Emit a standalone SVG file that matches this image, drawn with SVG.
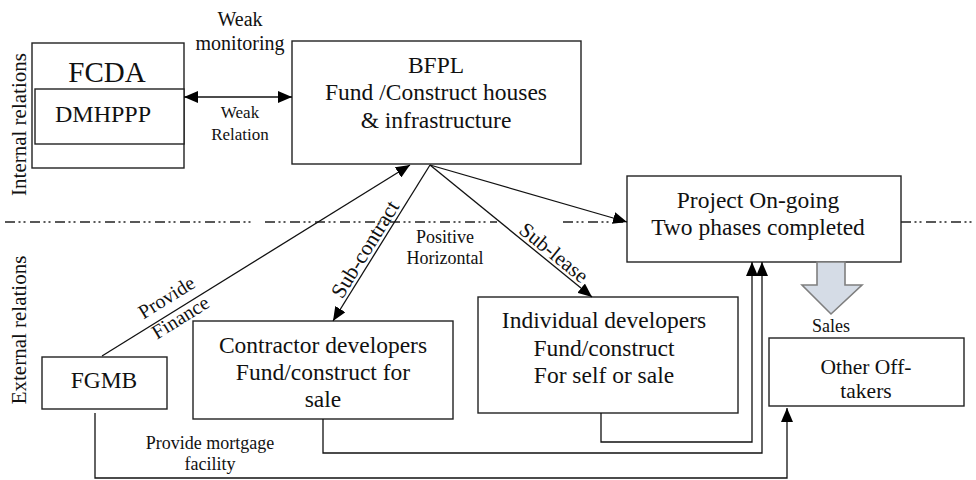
<svg xmlns="http://www.w3.org/2000/svg" width="976" height="480" viewBox="0 0 976 480">
<style>
text{font-family:"Liberation Serif","Times New Roman",serif;fill:#111}
.box{fill:#fff;stroke:#222;stroke-width:1.4}
.ln{fill:none;stroke:#111;stroke-width:1.3}
.dd{fill:none;stroke:#222;stroke-width:1.6;stroke-dasharray:10 3.5 2 3 2 4.5}
.m{font-size:23.5px;text-anchor:middle}
.s{font-size:18px;text-anchor:middle}
</style>
<defs>
<marker id="ah" viewBox="0 0 14 12" refX="14" refY="6" markerWidth="14" markerHeight="12" markerUnits="userSpaceOnUse" orient="auto-start-reverse">
<path d="M0,0 L14,6 L0,12 z" fill="#000"/>
</marker>
</defs>
<rect width="976" height="480" fill="#fff"/>

<g id="separator">
<path class="dd" d="M5,222 H253 M265,222 H497 M563,222 H627 M901,222 H976"/>
</g>

<g id="zone-labels">
<text transform="translate(26,124.5) rotate(-90)" font-size="21" text-anchor="middle">Internal relations</text>
<text transform="translate(26,330) rotate(-90)" font-size="21" text-anchor="middle">External relations</text>
</g>

<g id="fcda">
<rect class="box" x="32" y="43" width="152" height="125"/>
<text x="107" y="82" font-size="29" text-anchor="middle">FCDA</text>
</g>
<g id="dmhppp">
<rect class="box" x="35" y="89" width="149" height="55"/>
<text x="103" y="122" font-size="24" text-anchor="middle">DMHPPP</text>
</g>

<g id="bfpl">
<rect class="box" x="292" y="41" width="289" height="123"/>
<text class="m" x="436" y="73">BFPL</text>
<text class="m" x="436" y="100">Fund /Construct houses</text>
<text class="m" x="436" y="128">&amp; infrastructure</text>
</g>

<g id="project">
<rect class="box" x="627" y="176" width="274" height="86"/>
<text class="m" x="758" y="208">Project On-going</text>
<text class="m" x="758" y="235">Two phases completed</text>
</g>

<g id="fgmb">
<rect class="box" x="42" y="357" width="125" height="52"/>
<text class="m" x="104" y="388">FGMB</text>
</g>

<g id="contractor">
<rect class="box" x="193" y="321" width="260" height="98"/>
<text class="m" x="323" y="353">Contractor developers</text>
<text class="m" x="323" y="380">Fund/construct for</text>
<text class="m" x="323" y="407">sale</text>
</g>

<g id="individual">
<rect class="box" x="478" y="297" width="260" height="116"/>
<text class="m" x="604" y="328">Individual developers</text>
<text class="m" x="604" y="356">Fund/construct</text>
<text class="m" x="604" y="383">For self or sale</text>
</g>

<g id="offtakers">
<rect class="box" x="769" y="338" width="195" height="68"/>
<text x="866" y="374" font-size="21.5" text-anchor="middle">Other Off-</text>
<text x="866" y="398" font-size="21.5" text-anchor="middle">takers</text>
</g>

<g id="connectors">
<line class="ln" x1="184" y1="97" x2="292" y2="97" marker-start="url(#ah)" marker-end="url(#ah)"/>
<line class="ln" x1="102" y1="356" x2="410" y2="165" marker-end="url(#ah)"/>
<line class="ln" x1="430" y1="165" x2="333" y2="321" marker-end="url(#ah)"/>
<line class="ln" x1="430" y1="165" x2="592" y2="297" marker-end="url(#ah)"/>
<line class="ln" x1="430" y1="165" x2="627" y2="222" marker-end="url(#ah)"/>
<polyline class="ln" points="601,413 601,442 752,442 752,262" marker-end="url(#ah)"/>
<polyline class="ln" points="323,419 323,453 762,453 762,262" marker-end="url(#ah)"/>
<polyline class="ln" points="95,413 95,478 787,478 787,408" marker-end="url(#ah)"/>
<polygon points="817,262 845,262 845,285 862,285 831,314 802,285 817,285" fill="#d5dce6" stroke="#7f7f7f" stroke-width="1.6"/>
</g>

<g id="labels">
<text x="240" y="26" font-size="20" text-anchor="middle">Weak</text>
<text x="240" y="50" font-size="20" text-anchor="middle">monitoring</text>
<text x="240" y="118" font-size="17" text-anchor="middle">Weak</text>
<text x="240" y="140" font-size="17" text-anchor="middle">Relation</text>
<text class="s" x="445" y="243">Positive</text>
<text class="s" x="445" y="264">Horizontal</text>
<text class="s" x="831" y="332">Sales</text>
<text class="s" x="210" y="449">Provide mortgage</text>
<text class="s" x="210" y="470">facility</text>
<text transform="translate(371,253) rotate(-58.3)" font-size="21.5" text-anchor="middle">Sub-contract</text>
<text transform="translate(549.5,258) rotate(39.2)" font-size="21" text-anchor="middle">Sub-lease</text>
<text transform="translate(170,303) rotate(-31.8)" font-size="20" text-anchor="middle">Provide</text>
<text transform="translate(184,323) rotate(-31.8)" font-size="20" text-anchor="middle">Finance</text>
</g>
</svg>
